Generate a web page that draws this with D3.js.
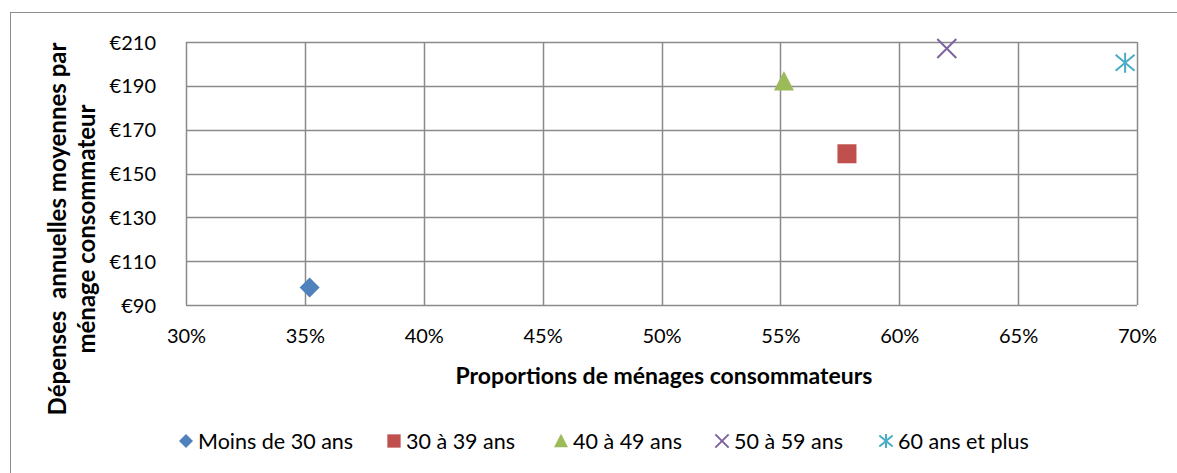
<!DOCTYPE html>
<html><head><meta charset="utf-8">
<script src="https://cdn.jsdelivr.net/npm/d3@7"></script>
<style>body{margin:0;background:#fff}svg{display:block}text{font-family:Lato,"Open Sans",sans-serif}</style>
</head><body>
<svg id="c" width="1177" height="473"></svg>
<script>
const seriesNames = ["Moins de 30 ans","30 à 39 ans","40 à 49 ans","50 à 59 ans","60 ans et plus"];
const proportions = [0.352, 0.578, 0.5515, 0.620, 0.695];
const depenses = [98, 159, 192, 207, 200.5];
const colors = ["#4F81BD","#C0504D","#9BBB59","#8064A2","#4BACC6"];
const symbols = ["diamond","square","triangle","x","asterisk"];
const xTicks = [0.30,0.35,0.40,0.45,0.50,0.55,0.60,0.65,0.70];
const yTicks = [90,110,130,150,170,190,210];

const svg = d3.select("#c");
const L=186,R=1137,T=42,B=305;
const x = d3.scaleLinear().domain([0.30,0.70]).range([L,R]);
const y = d3.scaleLinear().domain([90,210]).range([B,T]);
const grid="#8a8a8a";

svg.append("rect").attr("x",10.5).attr("y",12.5).attr("width",1200).attr("height",500)
  .attr("fill","none").attr("stroke","#8c8c8c").attr("stroke-width",1);

const g = svg.append("g");
g.selectAll(".hg").data(yTicks).join("line").attr("x1",L).attr("x2",R)
  .attr("y1",d=>Math.round(y(d))+0.5).attr("y2",d=>Math.round(y(d))+0.5).attr("stroke",grid).attr("stroke-width",1.5);
g.selectAll(".vg").data(xTicks).join("line").attr("y1",T).attr("y2",B)
  .attr("x1",d=>Math.round(x(d))+0.5).attr("x2",d=>Math.round(x(d))+0.5).attr("stroke",grid).attr("stroke-width",1.5);

const xAxis = d3.axisBottom(x).tickValues(xTicks).tickFormat(d3.format(".0%")).tickSize(0).tickPadding(0);
const xa = svg.append("g").attr("transform",`translate(0,${B})`).call(xAxis);
xa.select(".domain").remove();
xa.selectAll("text").attr("font-size",20).attr("fill","#000").attr("dy",null).attr("y",38)
  .attr("font-family","Lato,'Open Sans',sans-serif");

const yAxis = d3.axisLeft(y).tickValues(yTicks).tickFormat(d=>"€"+d).tickSize(0).tickPadding(0);
const ya = svg.append("g").attr("transform",`translate(156,0)`).call(yAxis);
ya.select(".domain").remove();
ya.selectAll("text").attr("font-size",20).attr("fill","#000").attr("dy","0.35em")
  .attr("font-family","Lato,'Open Sans',sans-serif");

svg.append("text").attr("x",664).attr("y",384).attr("text-anchor","middle")
  .attr("font-size",23).attr("font-weight","bold").text("Proportions de ménages consommateurs");
const yt = svg.append("text").attr("transform",`translate(0,229) rotate(-90)`)
  .attr("text-anchor","middle").attr("font-size",24).attr("font-weight","bold");
yt.append("tspan").attr("x",0).attr("y",66).attr("xml:space","preserve").text("Dépenses  annuelles moyennes par");
yt.append("tspan").attr("x",0).attr("y",95).text("ménage consommateur");

function drawMarker(sel, type, color, size){
  const s=size;
  if(type==="diamond") sel.append("path").attr("d",`M0,${-s}L${s},0L0,${s}L${-s},0Z`).attr("fill",color);
  else if(type==="square") sel.append("rect").attr("x",-s*0.95).attr("y",-s*0.95).attr("width",s*1.9).attr("height",s*1.9).attr("fill",color);
  else if(type==="triangle") sel.append("path").attr("d",`M0,${-s*1.05}L${s},${s*0.9}L${-s},${s*0.9}Z`).attr("fill",color);
  else if(type==="x") sel.append("path").attr("d",`M${-s*0.95},${-s*0.95}L${s*0.95},${s*0.95}M${s*0.95},${-s*0.95}L${-s*0.95},${s*0.95}`).attr("stroke",color).attr("stroke-width",2).attr("fill","none");
  else if(type==="asterisk") sel.append("path").attr("d",`M${-s*0.95},${-s*0.8}L${s*0.95},${s*0.8}M${s*0.95},${-s*0.8}L${-s*0.95},${s*0.8}M0,${-s}L0,${s}`).attr("stroke",color).attr("stroke-width",2).attr("fill","none");
}

seriesNames.forEach((n,i)=>{
  const m = svg.append("g").attr("transform",`translate(${x(proportions[i])},${y(depenses[i])})`);
  drawMarker(m, symbols[i], colors[i], 10);
});

const legX = [186, 394, 561, 722, 886];
seriesNames.forEach((n,i)=>{
  const lg = svg.append("g").attr("transform",`translate(${legX[i]},441)`);
  drawMarker(lg, symbols[i], colors[i], 7);
  lg.append("text").attr("x",12).attr("y",0).attr("dy","0.35em").attr("font-size",21.5).text(n);
});
</script>
</body></html>
